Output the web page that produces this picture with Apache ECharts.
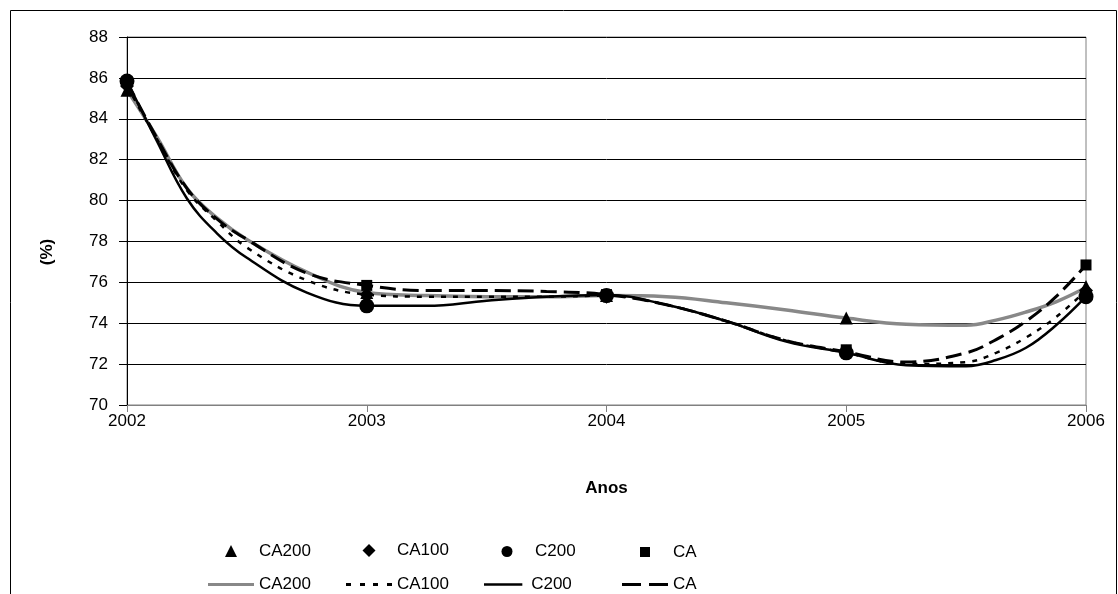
<!DOCTYPE html>
<html>
<head>
<meta charset="utf-8">
<script src="https://cdn.jsdelivr.net/npm/echarts@6/dist/echarts.min.js"></script>
<style>html,body{margin:0;padding:0;background:#fff}#c{width:1118px;height:594px}</style>
</head>
<body>
<div id="c"></div>
<script>
// Data
const years = [2002, 2003, 2004, 2005, 2006];
const ptCA200 = [85.4, 75.5, 75.35, 74.25, 75.8];
const ptCA100 = [85.6, 75.4, 75.3, 72.6, 75.6];
const ptC200  = [85.85, 74.85, 75.35, 72.55, 75.3];
const ptCA    = [85.8, 75.85, 75.4, 72.7, 76.85];

// Trend curves
const trendX = [2002, 2002.125, 2002.25, 2002.375, 2002.5, 2002.75, 2003, 2003.25, 2003.5, 2003.75, 2004, 2004.25, 2004.5, 2004.75, 2005, 2005.25, 2005.5, 2005.625, 2005.75, 2005.875, 2006];
const trCA200 = [85.4, 83.1, 80.6, 79.15, 78.1, 76.5, 75.5, 75.35, 75.3, 75.3, 75.35, 75.3, 75.0, 74.65, 74.25, 73.95, 73.9, 74.15, 74.55, 75.05, 75.75];
const trCA100 = [85.6, 83.0, 80.5, 79.0, 77.7, 76.1, 75.4, 75.3, 75.3, 75.3, 75.35, 74.9, 74.1, 73.15, 72.55, 72.0, 72.1, 72.55, 73.3, 74.3, 75.6];
const trC200  = [85.85, 82.9, 80.1, 78.4, 77.2, 75.5, 74.85, 74.85, 75.1, 75.3, 75.38, 74.9, 74.1, 73.1, 72.55, 71.95, 71.9, 72.2, 72.8, 73.9, 75.3];
const trCA    = [85.8, 83.05, 80.6, 79.1, 78.1, 76.45, 75.85, 75.6, 75.6, 75.55, 75.4, 74.9, 74.1, 73.15, 72.6, 72.1, 72.55, 73.2, 74.1, 75.3, 76.85];

const yTicks = {min: 70, max: 88, interval: 2};
const xTicks = {min: 2002, max: 2006, interval: 1};

const zip = (xs, ys) => xs.map((x, i) => [x, ys[i]]);
const FONT = 'Liberation Sans, Arial, sans-serif';

function lineSeries(name, ys, style) {
  return {name: name, type: 'line', data: zip(trendX, ys), smooth: 0.4, symbol: 'none',
    color: style.color, itemStyle: {color: style.color},
    lineStyle: style, z: 2, silent: true, animation: false};
}
function scatterSeries(name, ys, symbol, size) {
  return {name: name, type: 'scatter', data: zip(years, ys), symbol: symbol, symbolSize: size,
    color: '#000', itemStyle: {color: '#000', opacity: 1}, z: 5, animation: false};
}

// marker legend: small icon centred in a 46px slot, text after the slot
function markerLegend(start, top, name, icon, size) {
  return {data: [{name: name, icon: icon, itemStyle: {color: '#000', opacity: 1}}], left: start + 23 - size / 2, top: top + (17 - size) / 2 - 1,
    padding: 0, itemWidth: size, itemHeight: size, itemGap: 0, selectedMode: false,
    textStyle: {fontFamily: FONT, fontSize: 17, color: '#000', padding: [0, 0, 0, 23 - size / 2]}};
}
// line legend: icon drawn as a path (solid / dotted / dashed) 46px wide
const ICON_SOLID  = 'path://M0,0h46v3h-46z';
const ICON_DOTTED = 'path://M0,0h5v3h-5z M14,0h5v3h-5z M27,0h5v3h-5z M41,0h5v3h-5z';
const ICON_DASHED = 'path://M0,0h19v3h-19z M27,0h19v3h-19z';
function lineLegend(start, top, name, icon, thick) {
  return {data: [{name: name, icon: icon}], left: start, top: top, padding: 0,
    itemWidth: 46, itemHeight: thick, itemGap: 0, selectedMode: false,
    formatter: n => n.split(' ')[0],
    textStyle: {fontFamily: FONT, fontSize: 17, color: '#000', padding: [0, 0, 0, 0]}};
}

const chart = echarts.init(document.getElementById('c'), null, {renderer: 'canvas'});
chart.setOption({
  backgroundColor: '#fff',
  animation: false,
  graphic: [
    {type: 'rect', shape: {x: 10.5, y: 10.5, width: 1106, height: 600}, style: {fill: 'none', stroke: '#000', lineWidth: 1}, silent: true},
    {type: 'text', x: 47, y: 252, rotation: Math.PI / 2, style: {text: '(%)', font: 'bold 17px ' + FONT, fill: '#000', align: 'center', verticalAlign: 'middle'}}
  ],
  grid: {left: 127, right: 32, top: 37, bottom: 189, show: true, borderColor: '#808080', borderWidth: 1, containLabel: false},
  xAxis: {
    type: 'value', min: xTicks.min, max: xTicks.max, interval: xTicks.interval,
    name: 'Anos', nameLocation: 'middle', nameGap: 75,
    nameTextStyle: {fontFamily: FONT, fontSize: 17, fontWeight: 'bold', color: '#000'},
    axisLine: {show: true, onZero: false, lineStyle: {color: '#808080', width: 1}},
    axisTick: {show: true, inside: false, length: 7, lineStyle: {color: '#808080'}},
    axisLabel: {fontFamily: FONT, fontSize: 17, color: '#000', margin: 8, formatter: v => String(v)},
    splitLine: {show: false}
  },
  yAxis: {
    type: 'value', min: yTicks.min, max: yTicks.max, interval: yTicks.interval,
    axisLine: {show: true, lineStyle: {color: '#000', width: 1}},
    axisTick: {show: true, inside: false, length: 8, lineStyle: {color: '#000'}},
    axisLabel: {fontFamily: FONT, fontSize: 17, color: '#000', margin: 19, formatter: v => String(v)},
    splitLine: {show: true, lineStyle: {color: '#000', width: 1}}
  },
  legend: [
    markerLegend(208, 541, 'CA200', 'triangle', 12),
    markerLegend(346, 541, 'CA100', 'diamond', 13),
    markerLegend(484, 541, 'C200', 'circle', 11),
    markerLegend(622, 541, 'CA', 'rect', 10),
    lineLegend(208, 576, 'CA200 t', ICON_SOLID, 4),
    lineLegend(346, 576, 'CA100 t', ICON_DOTTED, 3),
    lineLegend(484, 576, 'C200 t', ICON_SOLID, 2.5),
    lineLegend(622, 576, 'CA t', ICON_DASHED, 3)
  ],
  series: [
    lineSeries('CA200 t', trCA200, {color: '#888', width: 3.5, type: 'solid'}),
    lineSeries('CA100 t', trCA100, {color: '#000', width: 2.5, type: [5, 7]}),
    lineSeries('C200 t', trC200, {color: '#000', width: 2.5, type: 'solid'}),
    lineSeries('CA t', trCA, {color: '#000', width: 3, type: [16, 7]}),
    scatterSeries('CA200', ptCA200, 'triangle', 13),
    scatterSeries('CA100', ptCA100, 'diamond', 14),
    scatterSeries('C200', ptC200, 'circle', 15),
    scatterSeries('CA', ptCA, 'rect', 11)
  ]
});
</script>
</body>
</html>
